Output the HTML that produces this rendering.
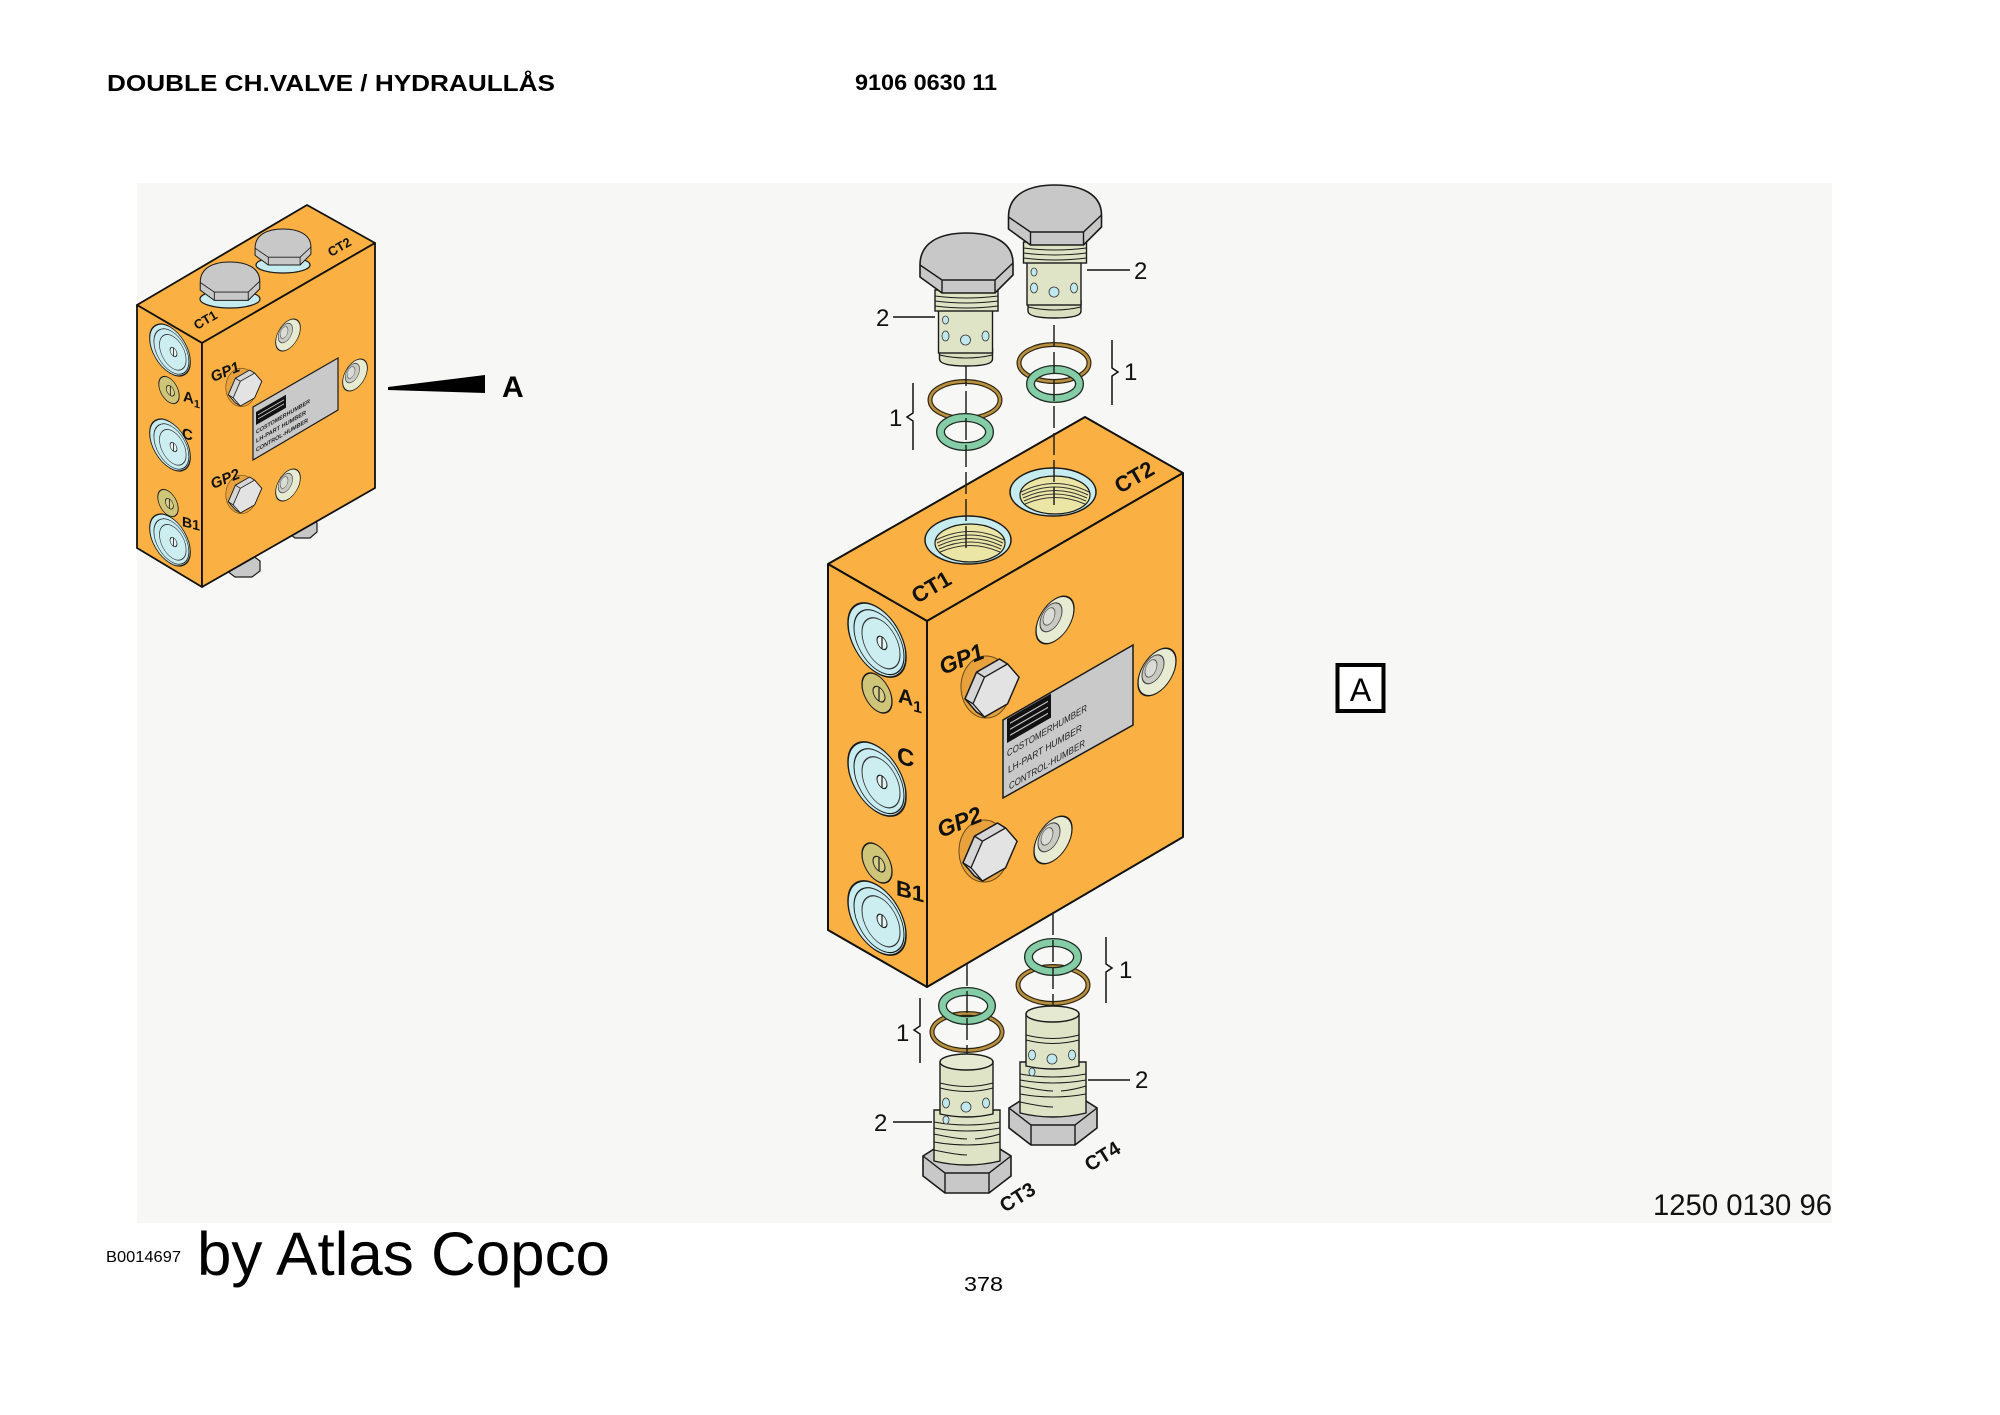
<!DOCTYPE html>
<html><head><meta charset="utf-8"><title>Double CH valve</title>
<style>html,body{margin:0;padding:0;background:#fff}svg{display:block}</style>
</head><body>
<svg xmlns="http://www.w3.org/2000/svg" width="2000" height="1415" viewBox="0 0 2000 1415" font-family="'Liberation Sans', Arial, sans-serif">
<defs>
<g id="hexhead">
<path d="M-46.5,32 C-46.5,9 -26,0 0,0 C26,0 46.5,9 46.5,30 L46.5,42 L28.5,60 L-24.5,60 L-46.5,44 Z" fill="#c8c8c8" stroke="#1a1a1a" stroke-width="1.6"/>
<path d="M-46.5,32 L-24.5,47 L28.5,47 L46.5,30 M-24.5,47 V60 M28.5,47 V60" fill="none" stroke="#1a1a1a" stroke-width="1.4"/>
</g>
<g id="tbolt">
<path d="M-27,116 V126 Q-27,133 0,133 Q26,133 26,126 V116 Z" fill="#dadfc0" stroke="#1a1a1a" stroke-width="1.4"/>
<rect x="-28" y="76" width="54" height="44" fill="#e0e4c6" stroke="#1a1a1a" stroke-width="1.4"/>
<path d="M-27,122 Q0,128 26,122" fill="none" stroke="#1a1a1a" stroke-width="1.1"/>
<ellipse cx="-21" cy="87" rx="3" ry="4" fill="#bfe9ef" stroke="#333" stroke-width="0.8"/>
<ellipse cx="-21" cy="103" rx="3.5" ry="5" fill="#bfe9ef" stroke="#333" stroke-width="0.8"/>
<ellipse cx="-1" cy="107" rx="5" ry="5" fill="#bfe9ef" stroke="#333" stroke-width="0.8"/>
<ellipse cx="19" cy="103" rx="3.5" ry="5" fill="#bfe9ef" stroke="#333" stroke-width="0.8"/>
<rect x="-31.5" y="57" width="63" height="21" fill="#dfe3c5" stroke="#1a1a1a" stroke-width="1.4"/>
<path d="M-31.5,63 Q0,67 31.5,63 M-31.5,68 Q0,72 31.5,68 M-31.5,73 Q0,77 31.5,73" fill="none" stroke="#1a1a1a" stroke-width="1.1"/>
<use href="#hexhead"/>
</g>
<g id="bbolt">
<path d="M-44,94 L-22,80 L22,80 L44,94 L44,114 L22,131 L-22,131 L-44,114 Z" fill="#c8c8c8" stroke="#1a1a1a" stroke-width="1.6"/>
<path d="M-44,94 L-22,111 L22,111 L44,94 M-22,111 V131 M22,111 V131" fill="none" stroke="#1a1a1a" stroke-width="1.4"/>
<path d="M-33,48 V99 Q0,107 33,99 V48 Z" fill="#dfe3c5" stroke="#1a1a1a" stroke-width="1.4"/>
<path d="M-33,60 Q0,66 33,60 M-33,66 Q0,72 33,66 M-33,72 Q-10,77 0,77 M8,77 Q20,76 33,72 M-33,80 Q0,86 33,80 M-33,88 Q-10,93 0,93" fill="none" stroke="#1a1a1a" stroke-width="1.1"/>
<path d="M-27,0 V52 Q0,58 26,52 V0 Z" fill="#e0e4c6" stroke="#1a1a1a" stroke-width="1.4"/>
<ellipse cx="-0.5" cy="0" rx="26.5" ry="8" fill="#e6e9d2" stroke="#1a1a1a" stroke-width="1.4"/>
<path d="M-27,21 Q0,28 26,21 M-27,26 Q0,33 26,26" fill="none" stroke="#1a1a1a" stroke-width="1.1"/>
<ellipse cx="-21" cy="41" rx="3.5" ry="5" fill="#bfe9ef" stroke="#333" stroke-width="0.8"/>
<ellipse cx="-1" cy="45" rx="5" ry="5" fill="#bfe9ef" stroke="#333" stroke-width="0.8"/>
<ellipse cx="19" cy="41" rx="3.5" ry="5" fill="#bfe9ef" stroke="#333" stroke-width="0.8"/>
<ellipse cx="-21" cy="58" rx="3" ry="4" fill="#bfe9ef" stroke="#333" stroke-width="0.8"/>
</g>
<g id="bring"><ellipse rx="35" ry="18.5" fill="none" stroke="#2e2410" stroke-width="5"/><ellipse rx="35" ry="18.5" fill="none" stroke="#b8903f" stroke-width="2.6"/></g>
<g id="gring"><ellipse rx="24.5" ry="14.5" fill="none" stroke="#1f2a22" stroke-width="9"/><ellipse rx="24.5" ry="14.5" fill="none" stroke="#84cda6" stroke-width="6.4"/></g>
<g id="port">
<ellipse rx="29" ry="33" fill="#c8ecef" stroke="#1a1a1a" stroke-width="1.5"/>
<ellipse cx="2" cy="1" rx="25" ry="29" fill="none" stroke="#1a1a1a" stroke-width="1"/>
<ellipse cx="4" cy="1" rx="19" ry="23" fill="#cdeef0" stroke="#333" stroke-width="1"/>
<ellipse cx="5" cy="0" rx="5" ry="6" fill="#e6f4f4" stroke="#1a1a1a" stroke-width="1"/>
<line x1="5" y1="-6" x2="5" y2="6" stroke="#1a1a1a" stroke-width="1.2"/>
</g>
<g id="sport">
<ellipse rx="15" ry="18" fill="#cfc579" stroke="#1a1a1a" stroke-width="1.3"/>
<ellipse cx="2" rx="6" ry="7" fill="#d8d08a" stroke="#1a1a1a" stroke-width="1"/>
<line x1="2" y1="-7" x2="2" y2="7" stroke="#1a1a1a" stroke-width="1.2"/>
</g>
<g id="fhole">
<ellipse rx="19" ry="21" fill="#e6ebd2" stroke="#1a1a1a" stroke-width="1.3"/>
<ellipse cx="-4" cy="-5" rx="11" ry="13" fill="#c9cac2" stroke="#444" stroke-width="1"/>
<ellipse cx="-6" cy="-7" rx="6" ry="8" fill="#dcdcd6" stroke="#555" stroke-width="0.8"/>
</g>
<g id="gphead">
<ellipse cx="-6" cy="-1" rx="25" ry="31" fill="#e7a23e" stroke="#6a4a18" stroke-width="1"/>
<path d="M-15.5,24 L-27,10.8 L-15.5,-15.8 L7.5,-29 L15.5,-24 L27,-10.8 L15.5,15.8 L-7.5,29 Z" fill="#d6d6d6" stroke="#1a1a1a" stroke-width="1.5"/>
<path d="M27,-10.8 L15.5,15.8 L-7.5,29 L-19,15.8 L-7.5,-10.8 L15.5,-24 Z" fill="#e3e3e3" stroke="#1a1a1a" stroke-width="1.3"/>
<path d="M-27,10.8 L-19,15.8 M-15.5,-15.8 L-7.5,-10.8" stroke="#1a1a1a" stroke-width="1.3"/>
</g>
<g id="thole">
<ellipse rx="43" ry="24" fill="#c6ecef" stroke="#1a1a1a" stroke-width="1.5"/>
<ellipse cx="2" cy="3" rx="35" ry="19" fill="#ebe6a6" stroke="#1a1a1a" stroke-width="1.2"/>
<path d="M-32,0 Q2,-17 36,0 M-31,3 Q2,-13 35,3 M-30,6 Q2,-9 34,6 M-29,9 Q2,-5 33,9 M-28,12 Q2,-1 32,12" fill="none" stroke="#333" stroke-width="1"/>
</g>
</defs>

<rect width="2000" height="1415" fill="#ffffff"/>
<rect x="137" y="183" width="1695" height="1040" fill="#f7f7f5"/>

<!-- header -->
<text x="107" y="91" font-size="23" font-weight="bold" textLength="448" lengthAdjust="spacingAndGlyphs" fill="#000">DOUBLE CH.VALVE / HYDRAULLÅS</text>
<text x="855" y="90" font-size="22" font-weight="bold" textLength="142" lengthAdjust="spacingAndGlyphs" fill="#000">9106 0630 11</text>

<!-- ===== small block ===== -->
<path d="M227,560 L235,555 L252,555 L260,561 L260,571 L252,577 L235,577 L227,571 Z" fill="#c8c8c8" stroke="#1a1a1a" stroke-width="1.2"/>
<path d="M287,523 L295,518 L310,518 L317,523 L317,532 L310,538 L295,538 L287,532 Z" fill="#c8c8c8" stroke="#1a1a1a" stroke-width="1.2"/>
<g fill="#fbb043" stroke="#111" stroke-width="1.8" stroke-linejoin="round">
<polygon points="137,305 307,205 375,243 202,343"/>
<polygon points="137,305 202,343 202,587 137,548"/>
<polygon points="202,343 375,243 375,488 202,587"/>
</g>
<ellipse cx="283" cy="265" rx="27" ry="8" fill="#c6ecef" stroke="#1a1a1a" stroke-width="1.2"/>
<g transform="translate(283,229) scale(0.6)"><use href="#hexhead"/></g>
<ellipse cx="230" cy="299" rx="30" ry="9" fill="#c6ecef" stroke="#1a1a1a" stroke-width="1.2"/>
<g transform="translate(230,262) scale(0.64)"><use href="#hexhead"/></g>
<use href="#port" transform="matrix(0.7,0.404,0,0.7,170,350)"/>
<use href="#sport" transform="matrix(0.68,0.39,0,0.68,169,390)"/>
<use href="#port" transform="matrix(0.7,0.404,0,0.7,170,445)"/>
<use href="#sport" transform="matrix(0.68,0.39,0,0.68,168,503)"/>
<use href="#port" transform="matrix(0.7,0.404,0,0.7,170,540)"/>
<use href="#fhole" transform="matrix(0.65,-0.375,0,0.68,288,335)"/>
<use href="#fhole" transform="matrix(0.65,-0.375,0,0.68,355,375)"/>
<use href="#fhole" transform="matrix(0.65,-0.375,0,0.68,288,485)"/>
<polygon points="253,407 338,358 338,410 253,460" fill="#c9c9c9" stroke="#1a1a1a" stroke-width="1.2"/>
<g transform="matrix(1,-0.577,0,1,256,412)">
<rect x="0" y="0" width="30" height="13" fill="#111"/>
<path d="M2,4 H28 M2,8 H28" stroke="#c9c9c9" stroke-width="1"/>
<text x="0" y="22" font-size="6" font-weight="bold" textLength="54" lengthAdjust="spacingAndGlyphs" fill="#222">COSTOMERHUMBER</text>
<text x="0" y="31" font-size="6" font-weight="bold" textLength="50" lengthAdjust="spacingAndGlyphs" fill="#222">LH-PART HUMBER</text>
<text x="0" y="40" font-size="6" font-weight="bold" textLength="52" lengthAdjust="spacingAndGlyphs" fill="#222">CONTROL-HUMBER</text>
</g>
<g transform="translate(245,388) scale(0.62)"><use href="#gphead"/></g>
<g transform="translate(245,495) scale(0.62)"><use href="#gphead"/></g>
<g font-weight="bold" fill="#111">
<text transform="translate(183,401) skewY(15)"><tspan font-size="15">A</tspan><tspan font-size="11" dy="3">1</tspan></text>
<text transform="translate(182,438) skewY(15)" font-size="15">C</text>
<text transform="translate(182,526) skewY(15)" font-size="14">B1</text>
<text transform="translate(213,382) rotate(-22)" font-size="15" font-style="italic">GP1</text>
<text transform="translate(213,489) rotate(-22)" font-size="15" font-style="italic">GP2</text>
<text transform="translate(197,330) rotate(-30)" font-size="13">CT1</text>
<text transform="translate(331,257) rotate(-30)" font-size="13">CT2</text>
</g>

<!-- arrow A -->
<polygon points="388,387 485,375 485,393 388,390" fill="#000"/>
<text x="502" y="397" font-size="30" font-weight="bold" fill="#000">A</text>

<!-- ===== main block ===== -->
<g fill="#fbb043" stroke="#111" stroke-width="2" stroke-linejoin="round">
<polygon points="828,564 1085,417 1183,473 927,621"/>
<polygon points="828,564 927,621 927,987 828,930"/>
<polygon points="927,621 1183,473 1183,837 927,987"/>
</g>
<use href="#thole" transform="translate(1053,492)"/>
<use href="#thole" transform="translate(968,540)"/>

<!-- left face ports -->
<use href="#port" transform="matrix(1,0.577,0,1,877,640)"/>
<use href="#sport" transform="matrix(1,0.577,0,1,877,693)"/>
<use href="#port" transform="matrix(1,0.577,0,1,877,779)"/>
<use href="#sport" transform="matrix(1,0.577,0,1,877,863)"/>
<use href="#port" transform="matrix(1,0.577,0,1,877,918)"/>

<!-- front face -->
<use href="#fhole" transform="matrix(1,-0.577,0,1,1055,620)"/>
<use href="#fhole" transform="matrix(1,-0.577,0,1,1157,672)"/>
<use href="#fhole" transform="matrix(1,-0.577,0,1,1053,840)"/>
<polygon points="1003,720 1133,645 1133,725 1003,798" fill="#c9c9c9" stroke="#1a1a1a" stroke-width="1.5"/>
<g transform="matrix(1,-0.577,0,1,1007,719)">
<rect x="0" y="0" width="44" height="24" fill="#111"/>
<path d="M3,6 H41 M3,12 H41 M3,18 H41" stroke="#c9c9c9" stroke-width="1.3"/>
<text x="0" y="38" font-size="10" textLength="80" lengthAdjust="spacingAndGlyphs" fill="#222">COSTOMERHUMBER</text>
<text x="1" y="55" font-size="10" textLength="74" lengthAdjust="spacingAndGlyphs" fill="#222">LH-PART HUMBER</text>
<text x="2" y="72" font-size="10" textLength="76" lengthAdjust="spacingAndGlyphs" fill="#222">CONTROL-HUMBER</text>
</g>
<use href="#gphead" transform="translate(992,688)"/>
<use href="#gphead" transform="translate(990,852)"/>

<g font-weight="bold" fill="#111">
<text transform="translate(943,675) rotate(-22)" font-size="23" font-style="italic">GP1</text>
<text transform="translate(941,838) rotate(-22)" font-size="23" font-style="italic">GP2</text>
<text transform="translate(917,604) rotate(-30)" font-size="22">CT1</text>
<text transform="translate(1120,494) rotate(-30)" font-size="22">CT2</text>
<text transform="translate(898,702) skewY(15)"><tspan font-size="21">A</tspan><tspan font-size="16" dy="5">1</tspan></text>
<text transform="translate(897,763) skewY(15)" font-size="24">C</text>
<text transform="translate(896,895) skewY(15)" font-size="22">B1</text>
<text transform="translate(1005,1213) rotate(-32)" font-size="20">CT3</text>
<text transform="translate(1090,1172) rotate(-32)" font-size="20">CT4</text>
</g>

<!-- rings -->
<use href="#bring" transform="translate(965,400)"/>
<use href="#gring" transform="translate(965,432)"/>
<use href="#bring" transform="translate(1054,363)"/>
<use href="#gring" transform="translate(1055,384)"/>
<use href="#bring" transform="translate(967,1032)"/>
<use href="#gring" transform="translate(967,1006)"/>
<use href="#bring" transform="translate(1053,985)"/>
<use href="#gring" transform="translate(1053,957)"/>

<!-- dashed centre lines -->
<g stroke="#222" stroke-width="1.5" stroke-dasharray="22 5" fill="none">
<line x1="966" y1="364" x2="966" y2="552"/>
<line x1="1054" y1="325" x2="1054" y2="505"/>
<line x1="967" y1="964" x2="967" y2="1062"/>
<line x1="1053" y1="913" x2="1053" y2="1012"/>
</g>

<!-- bolts -->
<use href="#tbolt" transform="translate(1055,185)"/>
<use href="#tbolt" transform="translate(966.5,233)"/>
<use href="#bbolt" transform="translate(1053,1014)"/>
<use href="#bbolt" transform="translate(967,1062)"/>

<!-- callouts -->
<g stroke="#111" stroke-width="1.5" fill="none">
<line x1="893" y1="317" x2="935" y2="317"/>
<line x1="1087" y1="270" x2="1130" y2="270"/>
<line x1="893" y1="1122" x2="932" y2="1122"/>
<line x1="1088" y1="1080" x2="1130" y2="1080"/>
<path d="M913,383 V413 L907,417 L913,421 V450"/>
<path d="M1112,340 V368 L1118,372 L1112,376 V405"/>
<path d="M920,998 V1026 L914,1030 L920,1034 V1063"/>
<path d="M1106,937 V964 L1112,968 L1106,972 V1003"/>
</g>
<g font-size="24" fill="#111">
<text x="876" y="326">2</text>
<text x="1134" y="279">2</text>
<text x="874" y="1131">2</text>
<text x="1135" y="1088">2</text>
<text x="889" y="426">1</text>
<text x="1124" y="380">1</text>
<text x="896" y="1041">1</text>
<text x="1119" y="978">1</text>
</g>

<!-- view A box -->
<rect x="1337.5" y="665" width="46" height="46" fill="#fff" stroke="#000" stroke-width="4"/>
<text x="1360.5" y="701" font-size="32" text-anchor="middle" fill="#000">A</text>

<!-- footer -->
<text x="1653" y="1215" font-size="30" textLength="179" lengthAdjust="spacingAndGlyphs" fill="#111">1250 0130 96</text>
<text x="106" y="1262" font-size="16" textLength="75" lengthAdjust="spacingAndGlyphs" fill="#000">B0014697</text>
<text x="197" y="1275" font-size="61" textLength="413" lengthAdjust="spacingAndGlyphs" fill="#000">by Atlas Copco</text>
<text x="964" y="1291" font-size="20" textLength="39" lengthAdjust="spacingAndGlyphs" fill="#000">378</text>
</svg>
</body></html>
